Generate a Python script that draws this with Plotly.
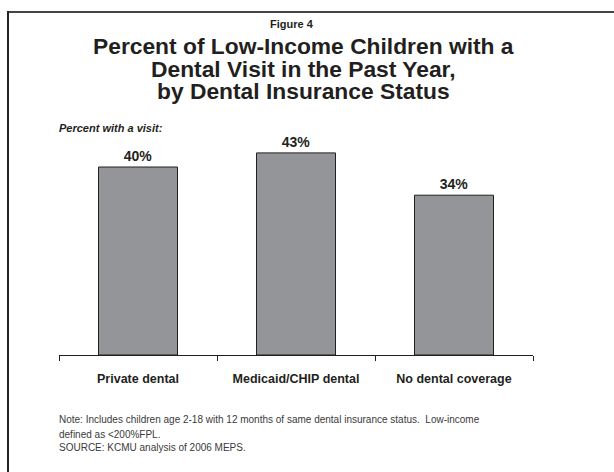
import plotly.graph_objects as go

# Chart data
categories = ["Private dental", "Medicaid/CHIP dental", "No dental coverage"]
visit_pct = [40, 43, 34]
value_labels = ["40%", "43%", "34%"]

W, H = 614, 472
L, R, T, B = 59, 81, 130, 117  # plot-area margins (px)
PW, PH = W - L - R, H - T - B


def px(x):
    return (x - L) / PW


def py(y):
    return (H - B - y) / PH


FONT = "Liberation Sans, Arial, sans-serif"
INK = "#231f20"

fig = go.Figure(
    go.Bar(
        x=categories,
        y=visit_pct,
        text=["<b>%s</b>" % s for s in value_labels],
        textposition="outside",
        textfont=dict(family=FONT, size=14, color=INK),
        marker=dict(color="#939598", line=dict(color=INK, width=1)),
        width=0.5,
        cliponaxis=False,
        hoverinfo="skip",
    )
)

fig.update_layout(
    width=W,
    height=H,
    margin=dict(l=L, r=R, t=T, b=B),
    paper_bgcolor="white",
    plot_bgcolor="white",
    showlegend=False,
    font=dict(family=FONT, color=INK),
    xaxis=dict(
        showline=True,
        linecolor=INK,
        linewidth=1,
        ticks="outside",
        tickson="boundaries",
        ticklen=5,
        tickcolor=INK,
        tickmode="array",
        tickvals=categories,
        ticktext=["<b>%s</b>" % c for c in categories],
        tickfont=dict(family=FONT, size=12.5, color=INK),
        ticklabelstandoff=12,
        showgrid=False,
        zeroline=False,
    ),
    yaxis=dict(
        range=[0, PH / 4.7],
        visible=False,
        showgrid=False,
        zeroline=False,
    ),
)

annotations = [
    dict(text="<b>Figure 4</b>", x=px(292), y=py(24), size=11),
    dict(text="<b>Percent of Low-Income Children with a</b>", x=px(303), y=py(46.5), size=22.8),
    dict(text="<b>Dental Visit in the Past Year,</b>", x=px(303), y=py(69), size=22.8),
    dict(text="<b>by Dental Insurance Status</b>", x=px(303), y=py(90.5), size=22.8),
]
for a in annotations:
    fig.add_annotation(
        text=a["text"], x=a["x"], y=a["y"], xref="paper", yref="paper",
        xanchor="center", yanchor="middle", showarrow=False,
        font=dict(family=FONT, size=a["size"], color=INK),
    )

fig.add_annotation(
    text="<b><i>Percent with a visit:</i></b>", x=px(57), y=py(128),
    xref="paper", yref="paper", xanchor="left", yanchor="middle",
    showarrow=False, font=dict(family=FONT, size=11, color=INK),
)

notes = [
    ("Note: Includes children age 2-18 with 12 months of same dental insurance status.  Low-income", 420),
    ("defined as <200%FPL.", 434),
    ("SOURCE: KCMU analysis of 2006 MEPS.", 447),
]
for txt, yy in notes:
    fig.add_annotation(
        text=txt, x=px(57), y=py(yy), xref="paper", yref="paper",
        xanchor="left", yanchor="middle", showarrow=False,
        font=dict(family=FONT, size=10, color="#3a3a3a"),
    )

# Frame: top and left border lines
fig.add_shape(type="line", xref="paper", yref="paper",
              x0=px(7), x1=px(614), y0=py(12), y1=py(12),
              line=dict(color="#444444", width=2))
fig.add_shape(type="line", xref="paper", yref="paper",
              x0=px(8), x1=px(8), y0=py(11), y1=py(472),
              line=dict(color="#222222", width=2))

fig.write_html("out.html")
